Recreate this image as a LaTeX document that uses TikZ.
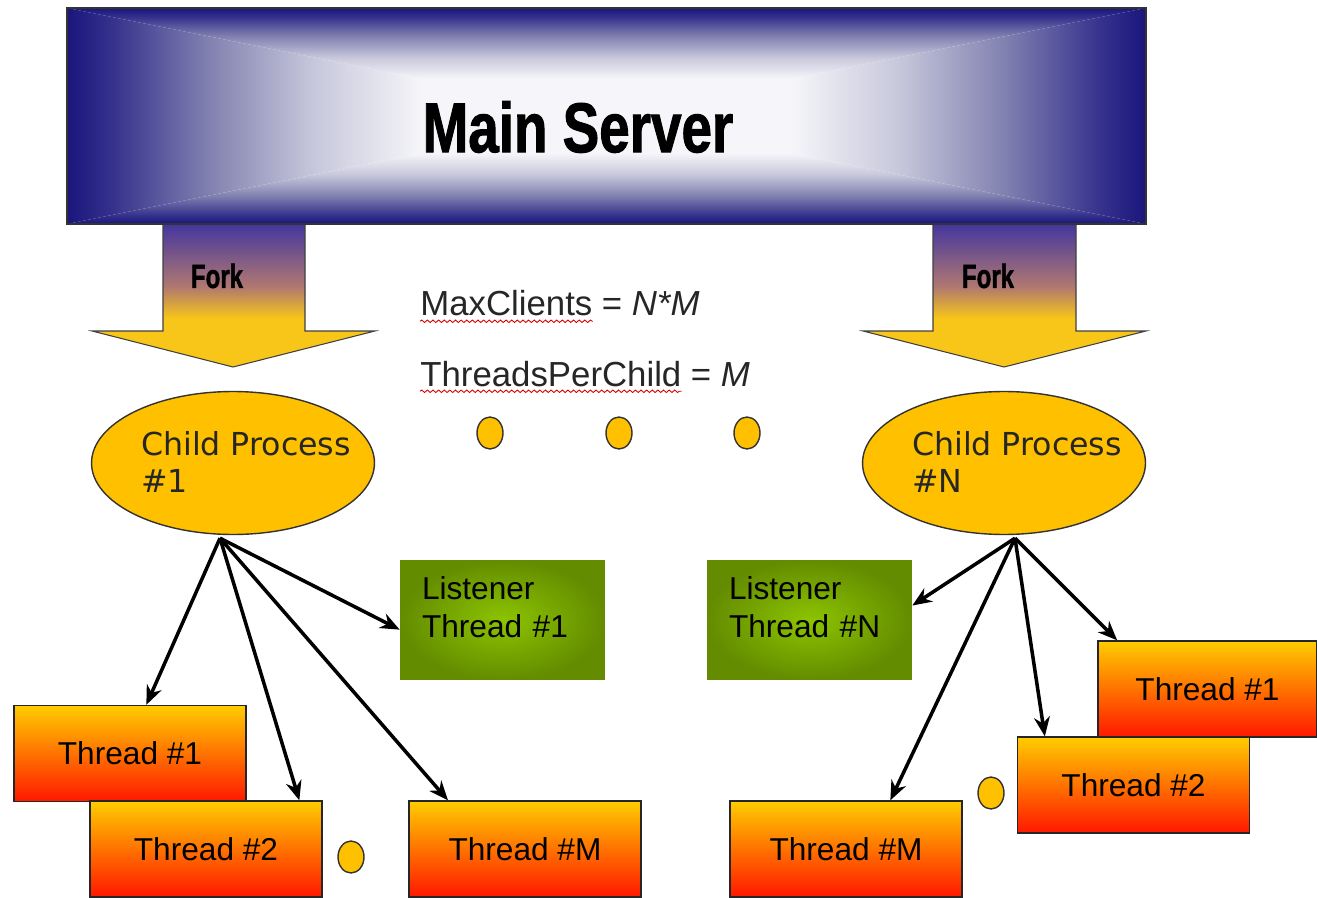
\documentclass[tikz,border=0pt]{standalone}
\usepackage{fontspec}
\setmainfont{Liberation Sans}
\newfontfamily\procfont{DejaVu Sans}
\newfontfamily\heavyfont[BoldFeatures={FakeBold=1.6}]{Liberation Sans}
\usepackage{graphicx}
\usetikzlibrary{arrows.meta,calc,positioning,shapes.geometric,decorations.pathmorphing}
\definecolor{srvnavy}{RGB}{26,22,124}
\definecolor{srvdeep}{RGB}{52,48,140}
\definecolor{srvmid}{RGB}{128,128,176}
\definecolor{srvpale}{RGB}{200,200,220}
\definecolor{srvlight}{RGB}{246,246,250}
\definecolor{forkblue}{RGB}{68,54,160}
\definecolor{forkmid}{RGB}{176,120,112}
\definecolor{forkgold}{RGB}{248,198,24}
\definecolor{procgold}{RGB}{255,192,0}
\definecolor{lsnlight}{RGB}{140,196,0}
\definecolor{lsndark}{RGB}{100,140,0}
\definecolor{thrtop}{RGB}{255,204,0}
\definecolor{thrbot}{RGB}{255,24,0}
\pgfdeclareverticalshading{srvfade}{100bp}{color(0bp)=(srvlight); color(42bp)=(srvlight); color(52bp)=(srvpale); color(62bp)=(srvmid); color(71bp)=(srvdeep); color(75bp)=(srvnavy); color(100bp)=(srvnavy)}
\pgfdeclareverticalshading{forkfade}{100bp}{color(0bp)=(forkgold); color(42bp)=(forkgold); color(53bp)=(forkmid); color(75bp)=(forkblue); color(100bp)=(forkblue)}

\begin{document}
\begin{tikzpicture}[x=0.02cm,y=-0.02cm,
  srvquad/.style={shading=srvfade},
  srvbox/.style={draw=black!80,line width=0.8pt,minimum width=21.58cm,minimum height=4.32cm,inner sep=0pt},
  srvtext/.style={font=\heavyfont\fontsize{40}{40}\selectfont\bfseries,inner sep=0pt},
  forkarrow/.style={draw=black!75,line width=0.6pt,shading=forkfade},
  forktext/.style={font=\heavyfont\fontsize{19}{20}\selectfont\bfseries,inner sep=0pt},
  process/.style={ellipse,draw=black!80,line width=0.8pt,fill=procgold,minimum width=5.66cm,minimum height=2.86cm,inner sep=0pt},
  proctext/.style={font=\procfont\fontsize{18}{21.6}\selectfont,align=left,text=black!85,inner sep=0pt},
  gap/.style={ellipse,draw=black!80,line width=0.8pt,fill=procgold,minimum width=0.52cm,minimum height=0.64cm,inner sep=0pt},
  listener/.style={rectangle,inner color=lsnlight,outer color=lsndark,minimum width=4.1cm,minimum height=2.4cm,
    text width=3.22cm,text depth=36pt,align=left,font=\fontsize{18}{21.6}\selectfont},
  worker/.style={rectangle,draw=black!85,line width=0.8pt,top color=thrtop,bottom color=thrbot,
    minimum width=4.64cm,minimum height=1.92cm,font=\fontsize{18}{21.6}\selectfont},
  param/.style={font=\fontsize{19.8}{22}\selectfont,inner sep=0pt,text=black!85},
  spellwave/.style={red!85!black,line width=0.5pt,decorate,decoration={snake,amplitude=0.7pt,segment length=3.2pt}},
  spawn/.style={-{Stealth[length=11pt,width=9pt]},line width=2pt}]
\useasboundingbox (0,0) rectangle (1317,898);
% fork arrows
\shadedraw[forkarrow] (163,224) -- (305,224) -- (305,331) -- (375,331) -- (233,367) -- (92,331) -- (163,331) -- cycle;
\shadedraw[forkarrow] (933,224) -- (1076,224) -- (1076,331) -- (1146,331) -- (1004,367) -- (863,331) -- (933,331) -- cycle;
\node[forktext] (forkL) at (217,276) {\scalebox{0.72}[1]{Fork}};
\node[forktext] (forkR) at (988,276) {\scalebox{0.72}[1]{Fork}};
% server
\coordinate (srvNW) at (67,8);
\coordinate (srvNE) at (1146,8);
\coordinate (srvSW) at (67,224);
\coordinate (srvSE) at (1146,224);
\coordinate (srvC) at (606.5,116);
\shade[srvquad] (srvNW) -- (srvNE) -- (srvC) -- cycle;
\shade[srvquad,shading angle=180] (srvSW) -- (srvSE) -- (srvC) -- cycle;
\shade[srvquad,shading angle=90] (srvNW) -- (srvSW) -- (srvC) -- cycle;
\shade[srvquad,shading angle=-90] (srvNE) -- (srvSE) -- (srvC) -- cycle;
\node[srvbox] (srv) at (srvC) {};
\node[srvtext] (srvtxt) at (578,127) {\scalebox{0.78}[1]{Main Server}};
% settings
\node[param,anchor=base west] (mcword) at (420,316) {MaxClients};
\node[param,anchor=base west] (mcval) at ([xshift=5pt]mcword.base east) {= \textit{N*M}};
\node[param,anchor=base west] (tpcword) at (420,386) {ThreadsPerChild};
\node[param,anchor=base west] (tpcval) at ([xshift=5pt]tpcword.base east) {= \textit{M}};
\draw[spellwave] ([yshift=-3pt]mcword.base west) -- ([yshift=-3pt]mcword.base east);
\draw[spellwave] ([yshift=-3pt]tpcword.base west) -- ([yshift=-3pt]tpcword.base east);
% children
\node[process] (cp1) at (233,463) {};
\node[proctext] (cp1txt) at (246,462) {Child Process\\\#1};
\node[process] (cp2) at (1004,463) {};
\node[proctext] (cp2txt) at (1017,462) {Child Process\\\#N};
\coordinate (cp1root) at ($(cp1.south)+(-13,3)$);
\coordinate (cp2root) at ($(cp2.south)+(11,3)$);
\node[gap] (gapA) at (490,433) {};
\node[gap] (gapB) at (619,433) {};
\node[gap] (gapC) at (747,433) {};
% threads
\node[listener] (lsn1) at (502.5,620) {Listener\\Thread \#1};
\node[listener] (lsn2) at (809.5,620) {Listener\\Thread \#N};
\node[worker] (thr1a) at (130,753.5) {Thread \#1};
\node[worker] (thr2a) at (206,849) {Thread \#2};
\node[worker] (thrMa) at (525,849) {Thread \#M};
\node[gap] (gapL) at (351,857) {};
\node[worker,minimum width=4.38cm] (thr1b) at (1207.5,689) {Thread \#1};
\node[worker] (thr2b) at (1133.5,785) {Thread \#2};
\node[worker] (thrMb) at (846,849) {Thread \#M};
\node[gap] (gapR) at (991,793) {};
\path[spawn]
(cp1root) edge ($(thr1a.north west)!0.57!(thr1a.north east)$)
(cp1root) edge ($(thr2a.north west)!0.9!(thr2a.north east)$)
(cp1root) edge ($(thrMa.north west)!0.17!(thrMa.north east)$)
(cp1root) edge ($(lsn1.north west)!0.58!(lsn1.south west)$)
(cp2root) edge ($(lsn2.north east)!0.38!(lsn2.south east)$)
(cp2root) edge ($(thrMb.north west)!0.69!(thrMb.north east)$)
(cp2root) edge ($(thr2b.north west)!0.12!(thr2b.north east)$)
(cp2root) edge ($(thr1b.north west)!0.09!(thr1b.north east)$);
\end{tikzpicture}
\end{document}
